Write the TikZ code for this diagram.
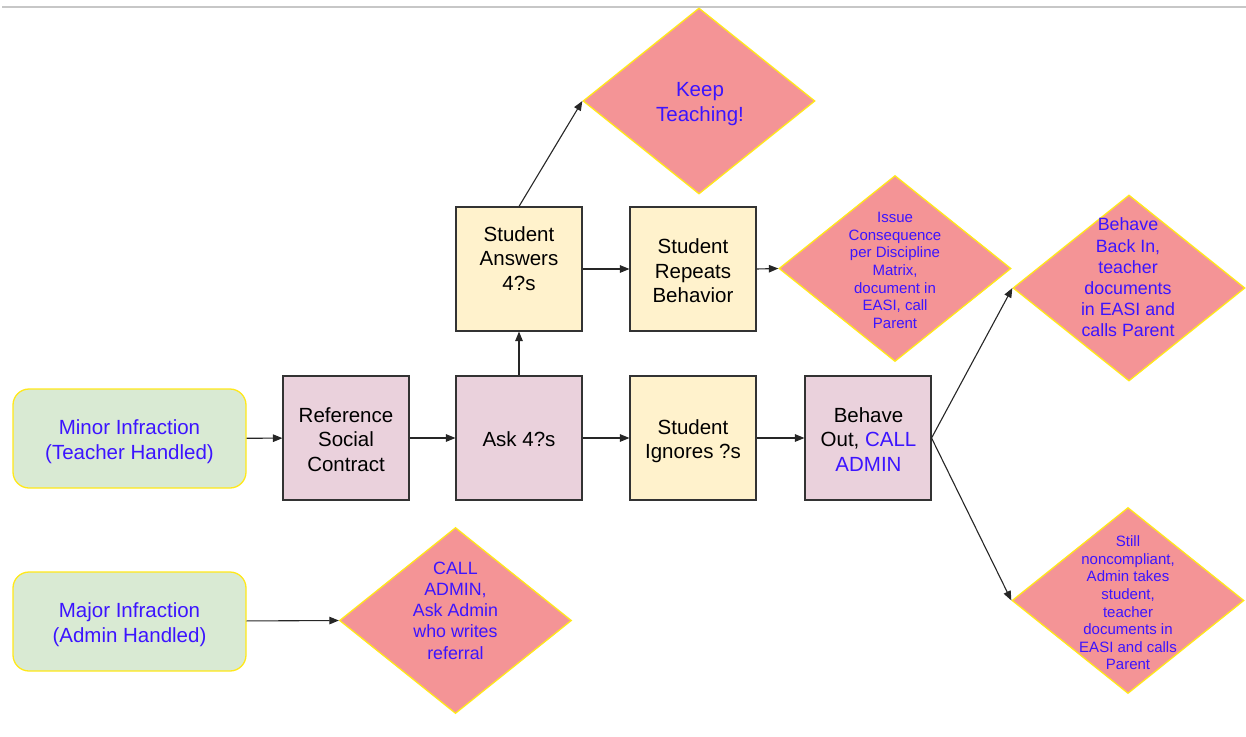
\documentclass[tikz,border=0pt]{standalone}
\usepackage{fontspec}
\setmainfont{Liberation Sans}
\usetikzlibrary{shapes.geometric,arrows.meta}
\definecolor{txtblue}{HTML}{3C14FF}
\definecolor{diafill}{HTML}{F49496}
\definecolor{diaedge}{HTML}{FFE81A}
\definecolor{greenfill}{HTML}{D9EAD3}
\definecolor{pinkfill}{HTML}{EAD1DC}
\definecolor{yelfill}{HTML}{FFF2CC}
\definecolor{boxedge}{HTML}{333333}
\tikzset{
  startbox/.style={draw=diaedge, fill=greenfill, line width=1.3pt, rounded corners=16pt,
    minimum width=233pt, minimum height=99pt, inner sep=0pt},
  pinkbox/.style={draw=boxedge, fill=pinkfill, line width=1.1pt, minimum width=126pt,
    minimum height=124pt, inner sep=0pt},
  yelbox/.style={draw=boxedge, fill=yelfill, line width=1.1pt, minimum width=126pt,
    minimum height=124pt, inner sep=0pt},
  dia/.style={diamond, draw=diaedge, fill=diafill, line width=1.3pt, inner sep=0pt,
    minimum width=232pt, minimum height=186pt},
  bigtxt/.style={align=center, inner sep=0pt, font=\fontsize{20.5}{24.5}\selectfont},
  midtxt/.style={align=center, inner sep=0pt, text=txtblue, font=\fontsize{17.8}{21.2}\selectfont},
  smalltxt/.style={align=center, inner sep=0pt, text=txtblue, font=\fontsize{15}{17.6}\selectfont},
  conn/.style={draw=black!85, line width=1.1pt, -{Triangle[length=9.5pt,width=7.5pt]}}
}
\begin{document}
\begin{tikzpicture}[x=1pt,y=-1pt]
\useasboundingbox (0,0) rectangle (1246,736);
\draw[black!22, line width=1.5pt] (2,7) -- (1246,7);

% start boxes
\node[startbox] (minor) at (129.5,438.5) {};
\node[bigtxt, text=txtblue] (minortxt) at (129.5,441.5) {Minor Infraction\\(Teacher Handled)};
\node[startbox] (major) at (129.5,621.5) {};
\node[bigtxt, text=txtblue] (majortxt) at (129.5,624.5) {Major Infraction\\(Admin Handled)};

% process boxes
\node[pinkbox] (ref) at (346,438) {};
\node[bigtxt] (reftxt) at (346,439.5) {Reference\\Social\\Contract};
\node[pinkbox] (ask) at (519,438) {};
\node[bigtxt] (asktxt) at (519,439) {Ask 4?s};
\node[yelbox] (ign) at (693,438) {};
\node[bigtxt] (igntxt) at (693,441) {Student\\Ignores ?s};
\node[pinkbox] (out) at (868,438) {};
\node[bigtxt] (outtxt) at (868.5,439.5) {Behave\\Out, \textcolor{txtblue}{CALL}\\\textcolor{txtblue}{ADMIN}};
\node[yelbox] (ans) at (519,269) {};
\node[bigtxt] (anstxt) at (519,258.5) {Student\\Answers\\4?s};
\node[yelbox] (rep) at (693,269) {};
\node[bigtxt] (reptxt) at (693,271) {Student\\Repeats\\Behavior};

% diamonds
\node[dia] (keep) at (699,101) {};
\node[bigtxt, text=txtblue] (keeptxt) at (700,104) {Keep\\Teaching!};
\node[dia] (issue) at (895,268.5) {};
\node[smalltxt] (issuetxt) at (895,270.5) {Issue\\Consequence\\per Discipline\\Matrix,\\document in\\EASI, call\\Parent};
\node[dia] (back) at (1129,288) {};
\node[midtxt] (backtxt) at (1128,277.5) {Behave\\Back In,\\teacher\\documents\\in EASI and\\calls Parent};
\node[dia] (still) at (1128,600.5) {};
\node[smalltxt] (stilltxt) at (1128,603) {Still\\noncompliant,\\Admin takes\\student,\\teacher\\documents in\\EASI and calls\\Parent};
\node[dia] (calladm) at (455.5,620.5) {};
\node[midtxt] (calltxt) at (455.5,610.5) {CALL\\ADMIN,\\Ask Admin\\who writes\\referral};

% connectors
\draw[conn] (minor) -- (ref);
\draw[conn] (ref) -- (ask);
\draw[conn] (ask) -- (ign);
\draw[conn] (ign) -- (out);
\draw[conn] (ask) -- (ans);
\draw[conn] (ans) -- (rep);
\draw[conn] (rep.east) -- (issue.west);
\draw[conn] (ans.north) -- (keep.west);
\draw[conn] (out.east) -- (back.west);
\draw[conn] (out.east) -- (still.west);
\draw[conn] (major) -- (calladm.west);
\end{tikzpicture}
\end{document}
